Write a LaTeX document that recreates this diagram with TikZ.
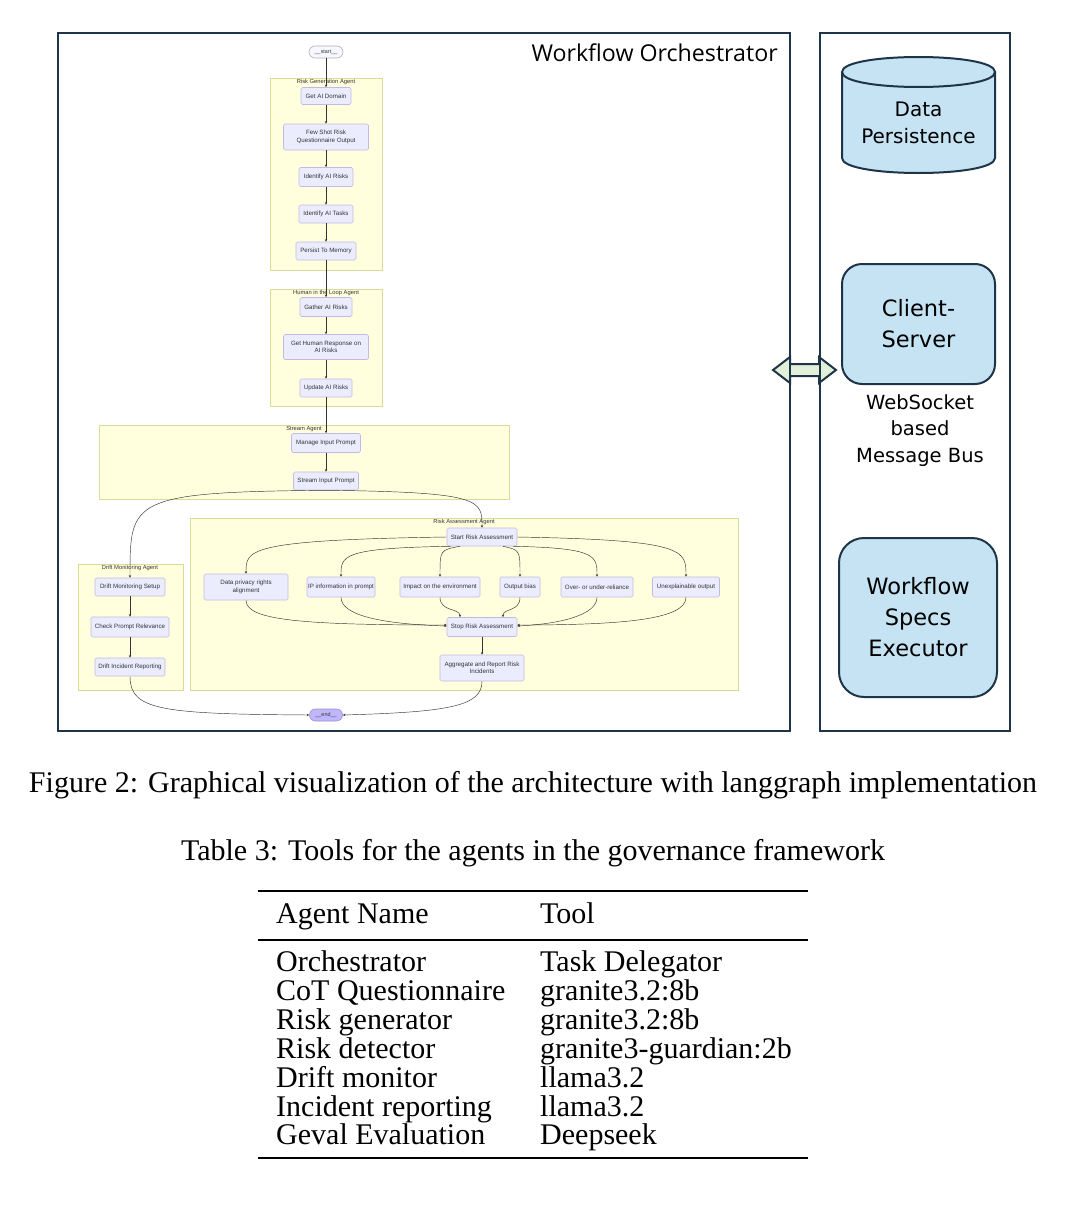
\documentclass[tikz,border=0pt]{standalone}
\usepackage{fontspec}
\setmainfont{Liberation Serif}
\newfontfamily\mfont{Liberation Sans}
\newfontfamily\pfont{DejaVu Sans}
\newfontfamily\ofont{Open Sans}
\usetikzlibrary{arrows.meta,calc}
\definecolor{navy}{HTML}{1F3447}
\definecolor{pblue}{HTML}{C5E3F3}
\definecolor{pgreen}{HTML}{E2F0D9}
\definecolor{clfill}{HTML}{FFFFDE}
\definecolor{cldraw}{HTML}{DADA9A}
\definecolor{mfill}{HTML}{ECECFF}
\definecolor{mdraw}{HTML}{C3B9E6}
\definecolor{mtext}{HTML}{333333}
\definecolor{endfill}{HTML}{BFB6FC}
\tikzset{
  cluster/.style={fill=clfill,draw=cldraw,line width=0.6pt},
  cllabel/.style={font=\mfont\fontsize{5.8}{6.4}\selectfont,text=mtext,inner sep=0pt},
  mnode/.style={draw=mdraw,fill=mfill,line width=0.6pt,rounded corners=1.5pt,
    font=\mfont\fontsize{6.2}{7.3}\selectfont,text=mtext,align=center,inner sep=1pt},
  medge/.style={draw=mtext,line width=0.45pt,-{Stealth[length=2.6pt,width=2.4pt]}},
  obox/.style={draw=navy,line width=2.4pt},
  pbox/.style={draw=navy,fill=pblue,line width=2pt,align=center,
    font=\pfont\fontsize{22.5}{31}\selectfont,text=black},
  ptext/.style={align=center,font=\pfont\fontsize{19.5}{26.5}\selectfont,text=black},
  tabtext/.style={anchor=mid west,font=\fontsize{30}{34}\selectfont,inner sep=0pt},
  captext/.style={font=\fontsize{30}{34}\selectfont,inner sep=0pt}
}
\begin{document}
\begin{tikzpicture}[x=1pt,y=-1pt]
\useasboundingbox (0,0) rectangle (1065,1215);
\fill[white] (0,0) rectangle (1065,1215);

% ---- double arrow (behind the borders)
\draw[draw=navy,fill=pgreen,line width=2pt,line join=miter]
  (773,370) -- (790,357) -- (790,364) -- (819,364) -- (819,357) -- (836,370)
  -- (819,383) -- (819,376) -- (790,376) -- (790,383) -- cycle;

% ---- outer boxes
\draw[obox] (58,33) rectangle (790,731);
\draw[obox] (820,33) rectangle (1010,731);
\node[font=\ofont\fontsize{23.2}{27}\selectfont,anchor=east,inner sep=0pt] (wotitle) at (778,53) {Workflow Orchestrator};

% ---- right panel
\fill[pblue] (842,72) -- (842,158) .. controls (842,178) and (995,178) .. (995,158) -- (995,72)
  .. controls (995,52) and (842,52) .. (842,72) -- cycle;
\draw[navy,line width=2pt] (842,72) -- (842,158) .. controls (842,178) and (995,178) .. (995,158) -- (995,72);
\draw[navy,line width=2pt] (842,72) .. controls (842,52) and (995,52) .. (995,72)
  .. controls (995,92) and (842,92) .. (842,72) -- cycle;
\node[ptext,font=\pfont\fontsize{20}{27}\selectfont] (dpers) at (918.5,122.5) {Data\\Persistence};

\node[pbox,minimum width=153pt,minimum height=120pt,rounded corners=20pt] (cs) at (918.5,324) {Client-\\Server};
\node[ptext] (wsb) at (920,430.5) {WebSocket\\based\\Message Bus};
\node[pbox,minimum width=158pt,minimum height=159pt,rounded corners=25pt] (wse) at (918,617.5) {Workflow\\Specs\\Executor};

% ---- clusters
\draw[cluster] (270,78) rectangle (382,270);
\node[cllabel] (lrga) at (326,82) {Risk Generation Agent};
\draw[cluster] (270,289) rectangle (382,406);
\node[cllabel] (lhil) at (326,292.5) {Human in the Loop Agent};
\draw[cluster] (99,425) rectangle (509,499);
\node[cllabel] (lsa) at (304,429) {Stream Agent};
\draw[cluster] (78,564) rectangle (183,690);
\node[cllabel] (ldma) at (130,568) {Drift Monitoring Agent};
\draw[cluster] (190,518) rectangle (738,690);
\node[cllabel] (lraa) at (464,522) {Risk Assessment Agent};

% ---- nodes
\node[mnode,fill=white!60!mfill,draw=gray!60,rounded corners=6pt,minimum width=34pt,minimum height=12pt,font=\mfont\fontsize{5.4}{6}\selectfont] (startn) at (326,52) {\_\_start\_\_};
\node[mnode,minimum width=50pt,minimum height=17pt] (gad) at (326,96) {Get AI Domain};
\node[mnode,minimum width=85pt,minimum height=26pt] (fsr) at (326,137) {Few Shot Risk\\Questionnaire Output};
\node[mnode,minimum width=54pt,minimum height=19pt] (iar) at (326,177) {Identify AI Risks};
\node[mnode,minimum width=54pt,minimum height=18pt] (iat) at (326,214) {Identify AI Tasks};
\node[mnode,minimum width=60pt,minimum height=18pt] (ptm) at (326,251) {Persist To Memory};
\node[mnode,minimum width=52pt,minimum height=19pt] (gar) at (326,307) {Gather AI Risks};
\node[mnode,minimum width=85pt,minimum height=25pt] (ghr) at (326,347) {Get Human Response on\\AI Risks};
\node[mnode,minimum width=52pt,minimum height=18pt] (uar) at (326,388) {Update AI Risks};
\node[mnode,minimum width=69pt,minimum height=19pt] (mip) at (326,443) {Manage Input Prompt};
\node[mnode,minimum width=65pt,minimum height=18pt] (sip) at (326,481) {Stream Input Prompt};
\node[mnode,minimum width=70pt,minimum height=18pt] (dms) at (130,587) {Drift Monitoring Setup};
\node[mnode,minimum width=78pt,minimum height=20pt] (cpr) at (130,627) {Check Prompt Relevance};
\node[mnode,minimum width=70pt,minimum height=18pt] (dir) at (130,667) {Drift Incident Reporting};
\node[mnode,minimum width=70pt,minimum height=18pt] (sra) at (482,537) {Start Risk Assessment};
\node[mnode,minimum width=84pt,minimum height=26pt] (dp) at (246,587) {Data privacy rights\\alignment};
\node[mnode,minimum width=68pt,minimum height=20pt] (ip) at (341,587) {IP information in prompt};
\node[mnode,minimum width=80pt,minimum height=20pt] (ie) at (440,587) {Impact on the environment};
\node[mnode,minimum width=40pt,minimum height=20pt] (ob) at (520,587) {Output bias};
\node[mnode,minimum width=72pt,minimum height=20pt] (ou) at (597,587) {Over- or under-reliance};
\node[mnode,minimum width=67pt,minimum height=20pt] (ue) at (686,587) {Unexplainable output};
\node[mnode,minimum width=70pt,minimum height=19pt] (srs) at (482,627) {Stop Risk Assessment};
\node[mnode,minimum width=84pt,minimum height=26pt] (agg) at (482,668) {Aggregate and Report Risk\\Incidents};
\node[mnode,fill=endfill,draw=endfill!80!black,rounded corners=6pt,minimum width=33pt,minimum height=12pt,font=\mfont\fontsize{5.4}{6}\selectfont] (endn) at (326,715) {\_\_end\_\_};

% ---- edges
\draw[medge] (startn) -- (gad);
\draw[medge] (gad) -- (fsr);
\draw[medge] (fsr) -- (iar);
\draw[medge] (iar) -- (iat);
\draw[medge] (iat) -- (ptm);
\draw[medge] (ptm) -- (gar);
\draw[medge] (gar) -- (ghr);
\draw[medge] (ghr) -- (uar);
\draw[medge] (uar) -- (mip);
\draw[medge] (mip) -- (sip);
\draw[medge] (sip.south) .. controls (130,492) and (130,500) .. (dms.north);
\draw[medge] (sip.south) .. controls (482,492) and (482,500) .. (sra.north);
\draw[medge] (dms) -- (cpr);
\draw[medge] (cpr) -- (dir);
\draw[medge] (sra.west) .. controls (246,540) and (246,550) .. (dp.north);
\draw[medge] ($(sra.south west)+(4,0)$) .. controls (341,548) and (341,556) .. (ip.north);
\draw[medge] ($(sra.south)+(-22,0)$) .. controls (440,550) .. (ie.north);
\draw[medge] ($(sra.south)+(21,0)$) .. controls (520,550) .. (ob.north);
\draw[medge] ($(sra.south east)+(-4,0)$) .. controls (597,548) and (597,556) .. (ou.north);
\draw[medge] (sra.east) .. controls (686,540) and (686,550) .. (ue.north);
\draw[medge] (dp.south) .. controls (246,620) and (300,625) .. ($(srs.west)+(0,-2)$);
\draw[medge] (ip.south) .. controls (341,615) and (380,624) .. ($(srs.west)+(0,-1)$);
\draw[medge] (ie.south) .. controls (440,612) and (460,608) .. ($(srs.north)+(-22,0)$);
\draw[medge] (ob.south) .. controls (520,612) and (503,608) .. ($(srs.north)+(21,0)$);
\draw[medge] (ou.south) .. controls (597,615) and (560,624) .. ($(srs.east)+(0,-1)$);
\draw[medge] (ue.south) .. controls (686,620) and (620,625) .. ($(srs.east)+(0,-2)$);
\draw[medge] (srs) -- (agg);
\draw[medge] (dir.south) .. controls (130,710) and (160,714) .. (endn.west);
\draw[medge] (agg.south) .. controls (482,706) and (450,712) .. (endn.east);

% ---- captions and table
\node[captext] (fcap) at (533,785) {Figure 2: Graphical visualization of the architecture with langgraph implementation};
\node[captext] (tcap) at (533,853) {Table 3: Tools for the agents in the governance framework};
\draw[line width=2.4pt] (258,891) -- (808,891);
\draw[line width=1.3pt] (258,940) -- (808,940);
\draw[line width=2.4pt] (258,1158) -- (808,1158);
\node[tabtext] (h1) at (276,921) {Agent Name};
\node[tabtext] (h2) at (540,921) {Tool};
\node[tabtext] (a1) at (276,969) {Orchestrator};
\node[tabtext] (b1) at (540,969) {Task Delegator};
\node[tabtext] (a2) at (276,998) {CoT Questionnaire};
\node[tabtext] (b2) at (540,998) {granite3.2:8b};
\node[tabtext] (a3) at (276,1027) {Risk generator};
\node[tabtext] (b3) at (540,1027) {granite3.2:8b};
\node[tabtext] (a4) at (276,1056) {Risk detector};
\node[tabtext] (b4) at (540,1056) {granite3-guardian:2b};
\node[tabtext] (a5) at (276,1085) {Drift monitor};
\node[tabtext] (b5) at (540,1085) {llama3.2};
\node[tabtext] (a6) at (276,1114) {Incident reporting};
\node[tabtext] (b6) at (540,1114) {llama3.2};
\node[tabtext] (a7) at (276,1142) {Geval Evaluation};
\node[tabtext] (b7) at (540,1142) {Deepseek};
\end{tikzpicture}
\end{document}
